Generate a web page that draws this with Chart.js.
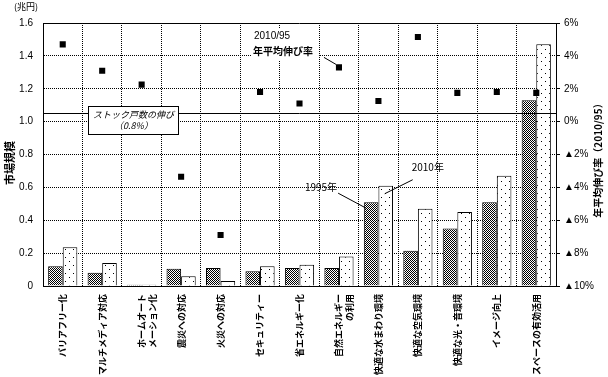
<!DOCTYPE html>
<html>
<head>
<meta charset="utf-8">
<script src="https://cdn.jsdelivr.net/npm/chart.js@4.4.1/dist/chart.umd.min.js"></script>
<style>
body { margin: 0; background: #fff; }
#wrap { width: 608px; height: 377px; }
</style>
</head>
<body>
<div id="wrap"><canvas id="myChart"></canvas></div>
<script>
// 市場規模（兆円）と年平均伸び率（2010/95）
const categories = [
    'バリアフリー化', 'マルチメディア対応', ['ホームオート', 'メーション化'], '震災への対応',
    '火災への対応', 'セキュリティー', '省エネルギー化', ['自然エネルギー', 'の利用'],
    '快適な水まわり環境', '快適な空気環境', '快適な光・音環境', 'イメージ向上', 'スペースの有効活用'
];
const size1995 = [0.12, 0.08, 0.008, 0.105, 0.11, 0.09, 0.11, 0.11, 0.51, 0.215, 0.35, 0.51, 1.13];
const size2010 = [0.235, 0.14, 0.008, 0.06, 0.03, 0.12, 0.13, 0.18, 0.61, 0.47, 0.45, 0.67, 1.47];
const growthRate = [4.7, 3.1, 2.25, -3.35, -6.9, 1.8, 1.1, 3.3, 1.25, 5.15, 1.75, 1.8, 1.75];
const stockGrowth = 0.5;
const stockText = ['ストック戸数の伸び', '（0.8%）'];
const seriesNames = ['1995年', '2010年'];

const JP = "'Noto Sans CJK JP', sans-serif";
const LAT = "'Liberation Sans', 'Noto Sans CJK JP', sans-serif";

function makePattern(w, h, dots, bg) {
    const c = document.createElement('canvas');
    c.width = w; c.height = h;
    const g = c.getContext('2d');
    g.fillStyle = bg;
    g.fillRect(0, 0, w, h);
    g.fillStyle = '#000';
    dots.forEach(d => g.fillRect(d[0], d[1], 1, 1));
    return g.createPattern(c, 'repeat');
}
const hatch = makePattern(2, 2, [[0,0],[1,1]], '#fff');
const dotted = makePattern(8, 8, [[1,1],[5,5]], '#fff');

const extras = {
    id: 'extras',
    afterDatasetsDraw(chart) {
        const { ctx, chartArea: a, scales: { y1 } } = chart;
        ctx.save();
        ctx.strokeStyle = '#000';
        ctx.lineWidth = 1;
        ctx.fillStyle = '#000';

        // ストック戸数の伸び line
        const ys = Math.round(y1.getPixelForValue(stockGrowth)) + 0.5;
        ctx.beginPath();
        ctx.moveTo(a.left, ys);
        ctx.lineTo(a.right, ys);
        ctx.stroke();

        // top border
        ctx.beginPath();
        ctx.moveTo(a.left, Math.round(a.top) + 0.5);
        ctx.lineTo(a.right, Math.round(a.top) + 0.5);
        ctx.stroke();

        // stock box
        const bx = Math.round(a.left) + 45.5, by = ys - 7;
        ctx.fillStyle = '#fff';
        ctx.fillRect(bx, by, 90, 28);
        ctx.strokeRect(bx, by, 90, 28);
        ctx.fillStyle = '#000';
        ctx.textAlign = 'center';
        ctx.textBaseline = 'middle';
        ctx.font = 'italic 9px ' + JP;
        ctx.fillText(stockText[0], bx + 45, by + 8);
        ctx.fillText(stockText[1], bx + 45, by + 19);

        // 2010/95 label and leader to the point of 自然エネルギー
        const pt = chart.getDatasetMeta(2).data[7];
        ctx.fillStyle = '#fff';
        ctx.fillRect(pt.x - 88, a.top + 5, 68, 32);
        ctx.fillStyle = '#000';
        ctx.textAlign = 'left';
        ctx.font = '10px ' + LAT;
        ctx.fillText('2010/95', pt.x - 85, a.top + 13);
        ctx.font = 'bold 10px ' + JP;
        ctx.fillText('年平均伸び率', pt.x - 86, a.top + 28);
        ctx.beginPath();
        ctx.moveTo(pt.x - 15, pt.y - 10);
        ctx.lineTo(pt.x - 3, pt.y - 3);
        ctx.stroke();

        // series labels on 快適な水まわり環境
        const b95 = chart.getDatasetMeta(0).data[8];
        const b10 = chart.getDatasetMeta(1).data[8];
        ctx.font = '10px ' + JP;
        ctx.textAlign = 'left';
        ctx.fillText(seriesNames[1], b10.x + 26, b10.y - 19);
        ctx.beginPath();
        ctx.moveTo(b10.x + 27, b10.y - 6);
        ctx.lineTo(b10.x - 1, b10.y + 8);
        ctx.stroke();
        ctx.textAlign = 'right';
        ctx.fillText(seriesNames[0], b95.x - 34, b95.y - 15);
        ctx.beginPath();
        ctx.moveTo(b95.x - 33, b95.y - 9);
        ctx.lineTo(b95.x - 5, b95.y + 6);
        ctx.stroke();

        // axis titles
        ctx.textAlign = 'center';
        ctx.font = '9px ' + JP;
        ctx.fillText('(兆円)', 26, 7);
        ctx.font = 'bold 11px ' + JP;
        ctx.save();
        ctx.translate(10, 163);
        ctx.rotate(-Math.PI / 2);
        ctx.fillText('市場規模', 0, 0);
        ctx.restore();
        ctx.font = 'bold 10px ' + JP;
        ctx.save();
        ctx.translate(598, 158);
        ctx.rotate(-Math.PI / 2);
        ctx.fillText('年平均伸び率（2010/95）', 0, 0);
        ctx.restore();
        ctx.restore();
    }
};

Chart.defaults.font.family = LAT;
Chart.defaults.color = '#000';

const ctx = document.getElementById('myChart').getContext('2d');
const myChart = new Chart(ctx, {
    type: 'bar',
    data: {
        labels: categories,
        datasets: [{
            label: seriesNames[0],
            data: size1995,
            backgroundColor: hatch,
            borderColor: '#000',
            borderWidth: 1,
            categoryPercentage: 0.74,
            barPercentage: 1,
            order: 2
        }, {
            label: seriesNames[1],
            data: size2010,
            backgroundColor: dotted,
            borderColor: '#000',
            borderWidth: 1,
            categoryPercentage: 0.74,
            barPercentage: 1,
            order: 2
        }, {
            type: 'line',
            label: '年平均伸び率',
            data: growthRate,
            yAxisID: 'y1',
            showLine: false,
            pointStyle: 'rect',
            pointRadius: 4.3,
            pointBorderWidth: 0,
            backgroundColor: '#000',
            borderColor: '#000',
            order: 0
        }]
    },
    options: {
        responsive: true,
        maintainAspectRatio: false,
        animation: false,
        layout: { padding: { top: 23 } },
        scales: {
            x: {
                afterFit: s => { s.height = 91; },
                ticks: {
                    autoSkip: false,
                    maxRotation: 90,
                    minRotation: 90,
                    padding: 8,
                    font: { size: 9, weight: 'bold', family: JP }
                },
                grid: { color: '#000', drawTicks: false, offset: true },
                border: { color: '#000', dash: [1, 1] }
            },
            y: {
                min: 0,
                max: 1.6,
                afterFit: s => { s.width = 43; },
                ticks: {
                    stepSize: 0.2,
                    padding: 10,
                    font: { size: 10 },
                    callback: v => v === 0 ? '0' : v.toFixed(1)
                },
                grid: { color: '#000', drawTicks: false },
                border: { color: '#000', dash: [1, 1] }
            },
            y1: {
                position: 'right',
                min: -10,
                max: 6,
                afterFit: s => { s.width = 52; },
                ticks: {
                    stepSize: 2,
                    padding: 4,
                    font: { size: 10 },
                    callback: v => v < 0 ? '▲' + (-v) + '%' : v + '%'
                },
                grid: { drawOnChartArea: false, color: '#000', tickLength: 4 },
                border: { color: '#000' }
            }
        },
        plugins: {
            legend: { display: false },
            tooltip: { enabled: false }
        }
    },
    plugins: [extras]
});
</script>
</body>
</html>
